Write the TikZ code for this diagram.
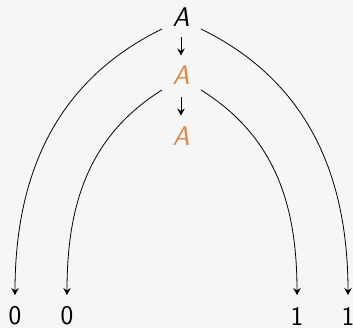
\documentclass[tikz,border=0pt]{standalone}
\usetikzlibrary{arrows.meta}
\definecolor{bg}{RGB}{246,246,246}
\definecolor{orng}{RGB}{224,135,66}
\begin{document}
\begin{tikzpicture}[x=1pt,y=1pt,
  lbl/.style={inner sep=0pt,font=\fontsize{27}{30}\selectfont\sffamily},
  arr/.style={line width=0.8pt,-{Stealth[length=7pt,width=7.5pt,inset=2.5pt]}}]
\fill[bg] (0,0) rectangle (353,328);
\useasboundingbox (0,0) rectangle (353,328);
\node[lbl] (A1) at (181,311) {\textit{A}};
\node[lbl,text=orng] (A2) at (181,252.5) {\textit{A}};
\node[lbl,text=orng] (A3) at (181,192) {\textit{A}};
\node[lbl] (z1) at (15,12) {0};
\node[lbl] (z2) at (67,12) {0};
\node[lbl] (o1) at (297,12) {1};
\node[lbl] (o2) at (348,12) {1};
\coordinate (A1l) at (162,299);
\coordinate (A1r) at (201,299);
\coordinate (A2l) at (162,238);
\coordinate (A2r) at (201,238);
\coordinate (A1b) at (181,291);
\coordinate (A2t) at (181,272.5);
\coordinate (A2b) at (181,231);
\coordinate (A3t) at (181,212.5);
\draw[arr] (A1b) -- (A2t);
\draw[arr] (A2b) -- (A3t);
\draw[arr] (A1l) to[out=206,in=90] ([yshift=21pt]z1.center);
\draw[arr] (A2l) to[out=212,in=90] ([yshift=21pt]z2.center);
\draw[arr] (A1r) to[out=-26,in=90] ([yshift=21pt]o2.center);
\draw[arr] (A2r) to[out=-32,in=90] ([yshift=21pt]o1.center);
\end{tikzpicture}
\end{document}
